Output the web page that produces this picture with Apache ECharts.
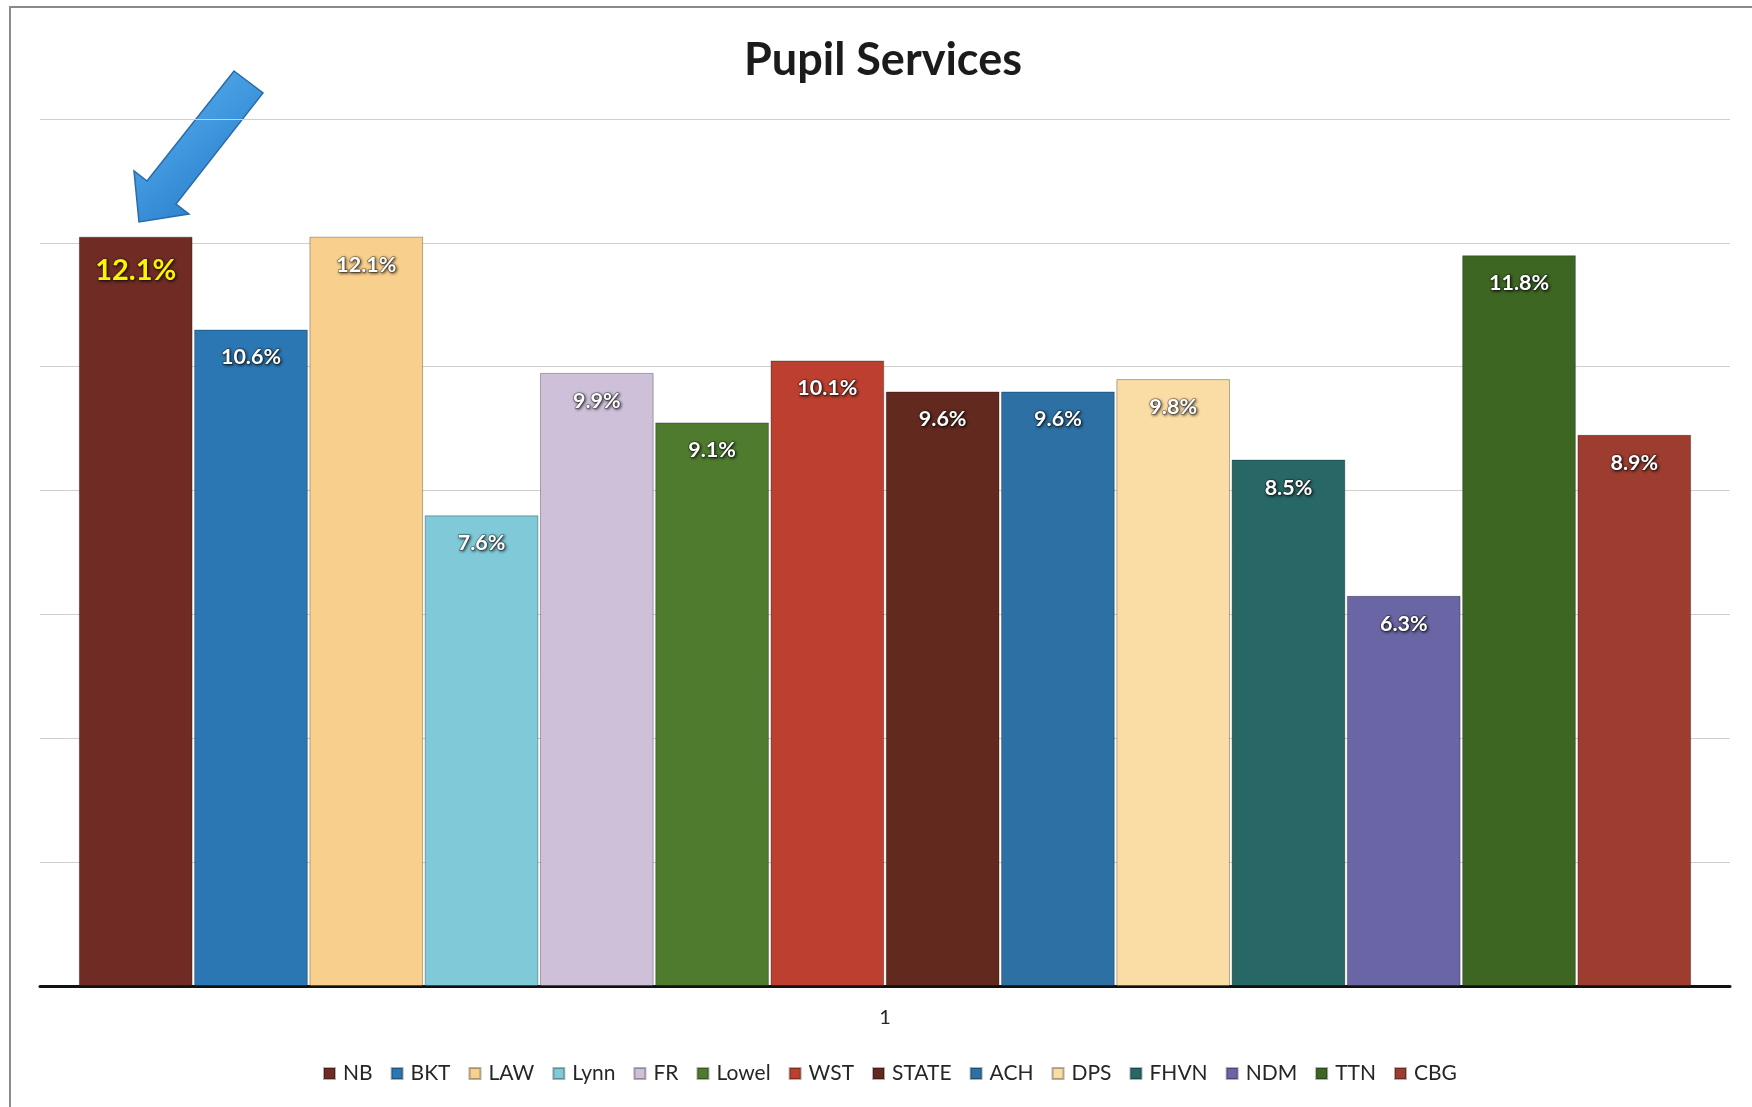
<!DOCTYPE html>
<html>
<head>
<meta charset="utf-8">
<title>Pupil Services</title>
<script src="https://cdn.jsdelivr.net/npm/echarts@6/dist/echarts.min.js"></script>
<style>
  html, body { margin: 0; padding: 0; background: #ffffff; }
  #chart { width: 1752px; height: 1107px; }
</style>
</head>
<body>
<div id="chart"></div>
<script>
// Districts, shown as one bar each in a single category
const districts = ['NB', 'BKT', 'LAW', 'Lynn', 'FR', 'Lowel', 'WST', 'STATE', 'ACH', 'DPS', 'FHVN', 'NDM', 'TTN', 'CBG'];
// Pupil services share of budget (%)
const shares = [12.1, 10.6, 12.1, 7.6, 9.9, 9.1, 10.1, 9.6, 9.6, 9.8, 8.5, 6.3, 11.8, 8.9];
const districtColors = ['#702b25', '#2b77b3', '#f8cf8c', '#7fc9d8', '#cdc0d8', '#4f7b2e', '#bd3f2f',
                        '#62291f', '#2c70a4', '#fadca5', '#276867', '#6a66a6', '#3e6623', '#9c3d2f'];
const categories = ['1'];
const highlighted = 'NB';

const FONT = 'Lato, "Open Sans", sans-serif';

const chart = echarts.init(document.getElementById('chart'), null, { renderer: 'canvas' });

const series = districts.map((name, i) => {
  const isHi = name === highlighted;
  return {
    name: name,
    type: 'bar',
    data: [shares[i]],
    barGap: '1.4%',
    barCategoryGap: '4.6%',
    itemStyle: {
      color: districtColors[i],
      borderColor: 'rgba(0,0,0,0.3)',
      borderWidth: 1
    },
    label: {
      show: true,
      position: 'insideTop',
      distance: isHi ? 19 : 17,
      formatter: p => p.value.toFixed(1) + '%',
      fontFamily: FONT,
      fontWeight: 'bold',
      fontSize: isHi ? 29 : 21.5,
      color: isHi ? '#fff200' : '#ffffff',
      textBorderColor: 'rgba(30,30,30,0.45)',
      textBorderWidth: 1.5,
      textShadowColor: 'rgba(0,0,0,0.7)',
      textShadowBlur: 3,
      textShadowOffsetX: 1,
      textShadowOffsetY: 1
    },
    emphasis: { disabled: true }
  };
});

const option = {
  backgroundColor: '#ffffff',
  animation: false,
  title: {
    text: 'Pupil Services',
    left: 739,
    top: 33,
    textStyle: { fontFamily: FONT, fontSize: 45, fontWeight: 'bold', color: '#1b1b1b' }
  },
  grid: { left: 40, right: 22, top: 119, bottom: 121, containLabel: false },
  legend: {
    data: districts,
    left: 318,
    top: 1058,
    itemWidth: 11,
    itemHeight: 11,
    itemGap: 18,
    icon: 'rect',
    textStyle: { fontFamily: FONT, fontSize: 21, color: '#262626', padding: [0, 0, 0, 3] }
  },
  xAxis: {
    type: 'category',
    data: categories,
    axisLine: { lineStyle: { color: '#111111', width: 3 } },
    axisTick: { show: false },
    axisLabel: { margin: 22, fontFamily: FONT, fontSize: 20, color: '#262626' }
  },
  yAxis: {
    type: 'value',
    min: 0,
    max: 14,
    interval: 2,
    axisLine: { show: false },
    axisTick: { show: false },
    axisLabel: { show: false },
    splitLine: { lineStyle: { color: '#cfcfcf', width: 1.2 } }
  },
  series: series,
  graphic: [
    {
      // page frame
      type: 'polyline',
      silent: true,
      shape: { points: [[10, 1107], [10, 7], [1752, 7]] },
      style: { stroke: '#8a8a8a', lineWidth: 2, fill: null }
    },
    {
      // callout arrow pointing at the highlighted bar
      type: 'polygon',
      silent: true,
      shape: {
        points: [[234, 71], [263, 93], [176, 204], [189, 214], [139, 222], [134, 171], [147, 181]]
      },
      style: {
        fill: new echarts.graphic.LinearGradient(0, 0, 1, 1, [
          { offset: 0, color: '#63b5ee' },
          { offset: 0.5, color: '#3d95dc' },
          { offset: 1, color: '#1f6fc0' }
        ]),
        stroke: '#2a6aa8',
        lineWidth: 1.5,
        lineJoin: 'miter'
      }
    }
  ]
};

chart.setOption(option);
</script>
</body>
</html>
